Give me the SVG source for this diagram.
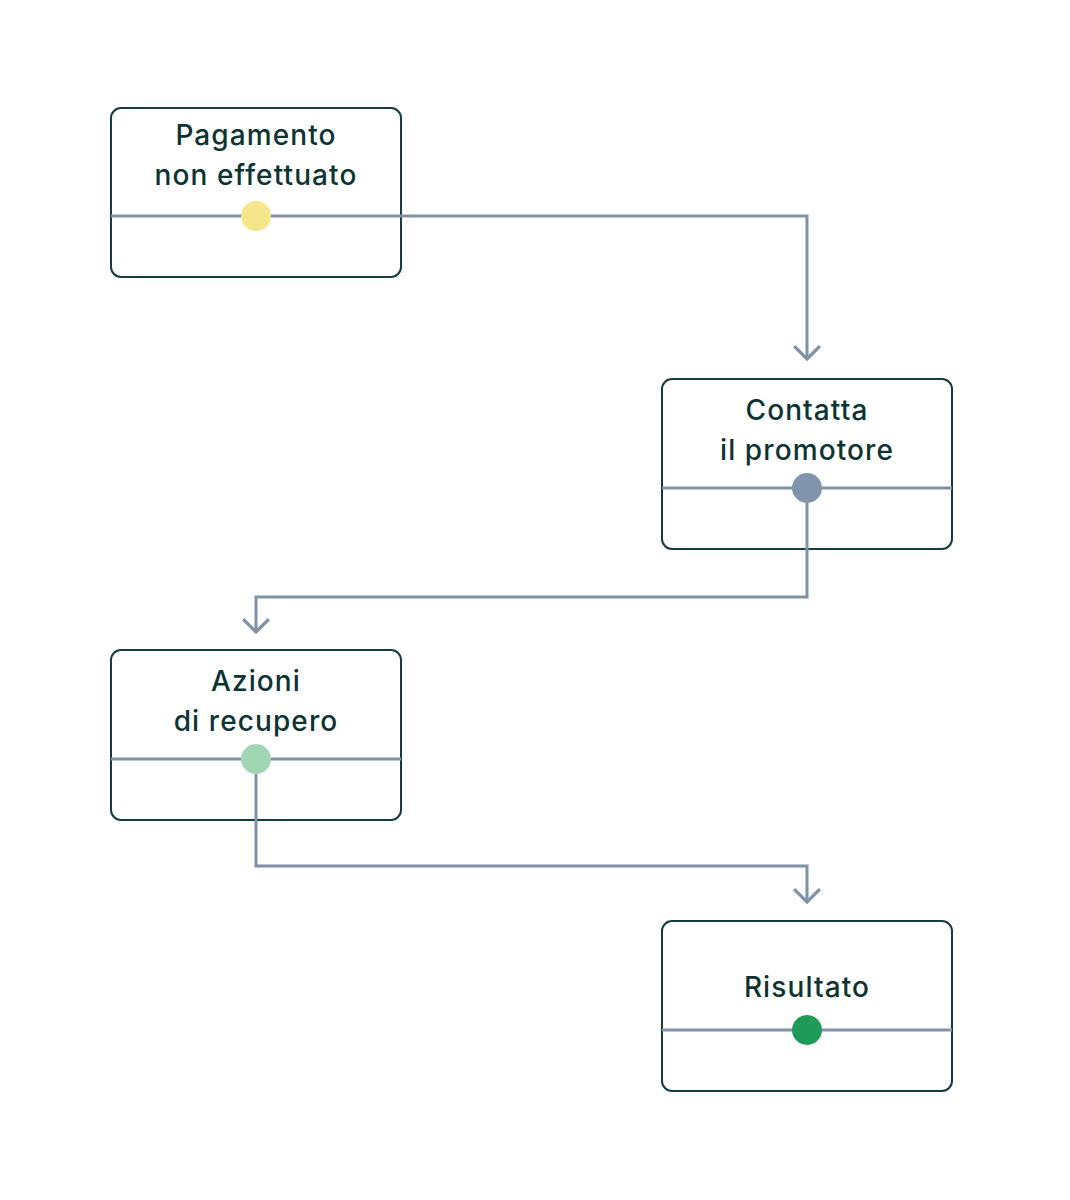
<svg xmlns="http://www.w3.org/2000/svg" width="1070" height="1200" viewBox="0 0 1070 1200">
<style>
.box{fill:#fff;stroke:#163c3c;stroke-width:2}
.div{stroke:#7f92a8;stroke-width:3}
.lbl{font-family:Inter,"Liberation Sans",sans-serif;font-size:28px;font-weight:500;fill:#0d3333;text-anchor:middle;letter-spacing:1.1px}
.conn{fill:none;stroke:#7f92a8;stroke-width:3}
</style>
<defs>
<marker id="arr" markerWidth="30" markerHeight="30" viewBox="-14 -14 28 28" refX="0" refY="0" orient="auto" markerUnits="userSpaceOnUse">
<path d="M-12,-12 L0,0 L-12,12" fill="none" stroke="#7f92a8" stroke-width="3"/>
</marker>
</defs>
<rect width="1070" height="1200" fill="#fff"/>
<g id="n1">
<rect class="box" x="111" y="108" width="290" height="169" rx="10"/>
<text class="lbl" x="256" y="145">Pagamento</text>
<text class="lbl" x="256" y="185">non effettuato</text>
</g>
<g id="n2">
<rect class="box" x="662" y="379" width="290" height="170" rx="10"/>
<text class="lbl" x="807" y="420">Contatta</text>
<text class="lbl" x="807" y="460">il promotore</text>
</g>
<g id="n3">
<rect class="box" x="111" y="650" width="290" height="170" rx="10"/>
<text class="lbl" x="256" y="691">Azioni</text>
<text class="lbl" x="256" y="731">di recupero</text>
</g>
<g id="n4">
<rect class="box" x="662" y="921" width="290" height="170" rx="10"/>
<text class="lbl" x="807" y="997">Risultato</text>
</g>
<g id="connectors">
<line class="div" x1="111" y1="216" x2="401" y2="216"/>
<line class="div" x1="662" y1="488" x2="952" y2="488"/>
<line class="div" x1="111" y1="759" x2="401" y2="759"/>
<line class="div" x1="662" y1="1030" x2="952" y2="1030"/>
<path class="conn" d="M401,216 H807 V359" marker-end="url(#arr)"/>
<path class="conn" d="M807,488 V597 H256 V632" marker-end="url(#arr)"/>
<path class="conn" d="M256,759 V866 H807 V902" marker-end="url(#arr)"/>
</g>
<g id="dots">
<circle cx="256" cy="216" r="15" fill="#f5e68a"/>
<circle cx="807" cy="488" r="15" fill="#8095ab"/>
<circle cx="256" cy="759" r="15" fill="#a0d6b3"/>
<circle cx="807" cy="1030" r="15" fill="#1e9b58"/>
</g>
</svg>
